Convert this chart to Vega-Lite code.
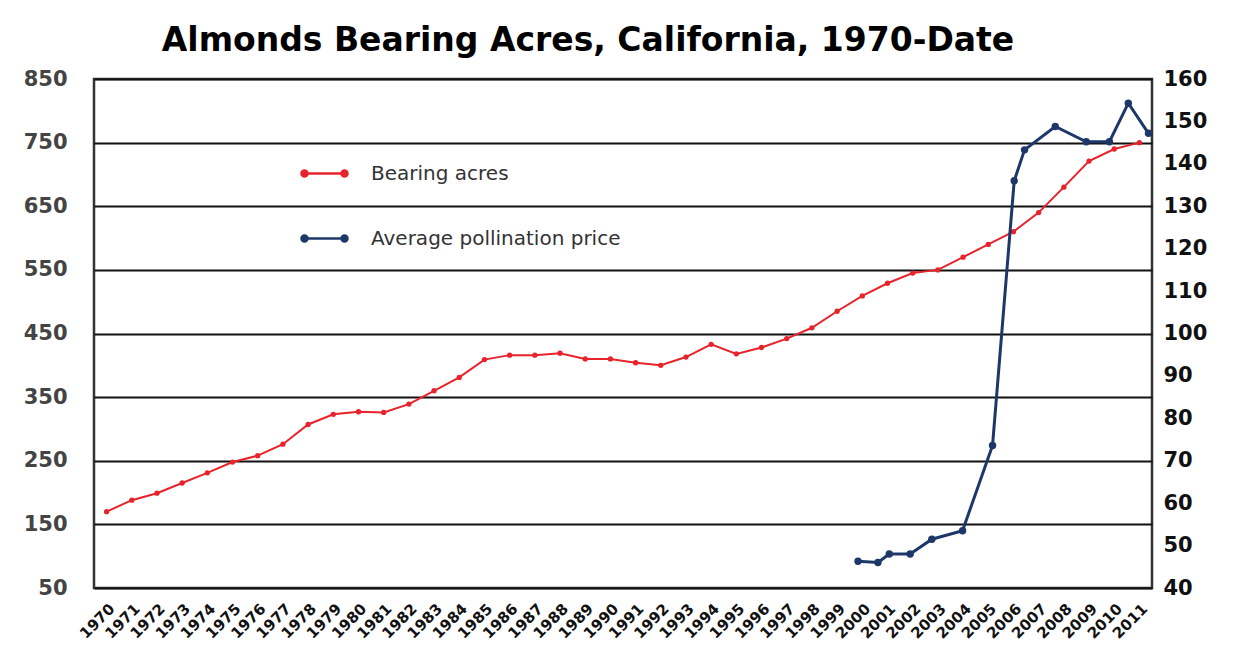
{
  "$schema": "https://vega.github.io/schema/vega-lite/v6.json",
  "width": 1058,
  "height": 509,
  "autosize": {"type": "none"},
  "padding": {"left": 94, "top": 79, "right": 87, "bottom": 78},
  "background": "white",
  "title": {
    "text": "Almonds Bearing Acres, California, 1970-Date",
    "font": "DejaVu Sans",
    "fontSize": 33,
    "fontWeight": "bold",
    "color": "#000",
    "anchor": "middle",
    "dx": -35,
    "offset": 10
  },
  "config": {
    "view": {"stroke": "#333", "strokeWidth": 2.5},
    "axis": {"labelFont": "DejaVu Sans", "labelFontWeight": "bold", "ticks": false, "domain": false, "title": null}
  },
  "datasets": {
    "acres": [
      {"year": 1970, "acres": 170, "series": "Bearing acres"},
      {"year": 1971, "acres": 188, "series": "Bearing acres"},
      {"year": 1972, "acres": 199, "series": "Bearing acres"},
      {"year": 1973, "acres": 215, "series": "Bearing acres"},
      {"year": 1974, "acres": 231, "series": "Bearing acres"},
      {"year": 1975, "acres": 248, "series": "Bearing acres"},
      {"year": 1976, "acres": 258, "series": "Bearing acres"},
      {"year": 1977, "acres": 276, "series": "Bearing acres"},
      {"year": 1978, "acres": 307, "series": "Bearing acres"},
      {"year": 1979, "acres": 323, "series": "Bearing acres"},
      {"year": 1980, "acres": 327, "series": "Bearing acres"},
      {"year": 1981, "acres": 326, "series": "Bearing acres"},
      {"year": 1982, "acres": 339, "series": "Bearing acres"},
      {"year": 1983, "acres": 360, "series": "Bearing acres"},
      {"year": 1984, "acres": 381, "series": "Bearing acres"},
      {"year": 1985, "acres": 409, "series": "Bearing acres"},
      {"year": 1986, "acres": 416, "series": "Bearing acres"},
      {"year": 1987, "acres": 416, "series": "Bearing acres"},
      {"year": 1988, "acres": 419, "series": "Bearing acres"},
      {"year": 1989, "acres": 410, "series": "Bearing acres"},
      {"year": 1990, "acres": 410, "series": "Bearing acres"},
      {"year": 1991, "acres": 404, "series": "Bearing acres"},
      {"year": 1992, "acres": 400, "series": "Bearing acres"},
      {"year": 1993, "acres": 413, "series": "Bearing acres"},
      {"year": 1994, "acres": 433, "series": "Bearing acres"},
      {"year": 1995, "acres": 418, "series": "Bearing acres"},
      {"year": 1996, "acres": 428, "series": "Bearing acres"},
      {"year": 1997, "acres": 442, "series": "Bearing acres"},
      {"year": 1998, "acres": 459, "series": "Bearing acres"},
      {"year": 1999, "acres": 485, "series": "Bearing acres"},
      {"year": 2000, "acres": 509, "series": "Bearing acres"},
      {"year": 2001, "acres": 529, "series": "Bearing acres"},
      {"year": 2002, "acres": 545, "series": "Bearing acres"},
      {"year": 2003, "acres": 550, "series": "Bearing acres"},
      {"year": 2004, "acres": 570, "series": "Bearing acres"},
      {"year": 2005, "acres": 590, "series": "Bearing acres"},
      {"year": 2006, "acres": 610, "series": "Bearing acres"},
      {"year": 2007, "acres": 640, "series": "Bearing acres"},
      {"year": 2008, "acres": 680, "series": "Bearing acres"},
      {"year": 2009, "acres": 721, "series": "Bearing acres"},
      {"year": 2010, "acres": 740, "series": "Bearing acres"},
      {"year": 2011, "acres": 750, "series": "Bearing acres"}
    ],
    "price": [
      {"year": 1999.83, "price": 46.3, "series": "Average pollination price"},
      {"year": 2000.62, "price": 46.0, "series": "Average pollination price"},
      {"year": 2001.07, "price": 48.0, "series": "Average pollination price"},
      {"year": 2001.9, "price": 48.0, "series": "Average pollination price"},
      {"year": 2002.76, "price": 51.5, "series": "Average pollination price"},
      {"year": 2003.98, "price": 53.5, "series": "Average pollination price"},
      {"year": 2005.17, "price": 73.6, "series": "Average pollination price"},
      {"year": 2006.03, "price": 136.0, "series": "Average pollination price"},
      {"year": 2006.44, "price": 143.3, "series": "Average pollination price"},
      {"year": 2007.66, "price": 148.8, "series": "Average pollination price"},
      {"year": 2008.89, "price": 145.2, "series": "Average pollination price"},
      {"year": 2009.81, "price": 145.2, "series": "Average pollination price"},
      {"year": 2010.56, "price": 154.3, "series": "Average pollination price"},
      {"year": 2011.36, "price": 147.2, "series": "Average pollination price"}
    ]
  },
  "encoding": {
    "x": {
      "field": "year",
      "type": "quantitative",
      "scale": {"domain": [1969.5, 2011.5], "nice": false, "zero": false},
      "axis": {
        "values": [1970,1971,1972,1973,1974,1975,1976,1977,1978,1979,1980,1981,1982,1983,1984,1985,1986,1987,1988,1989,1990,1991,1992,1993,1994,1995,1996,1997,1998,1999,2000,2001,2002,2003,2004,2005,2006,2007,2008,2009,2010,2011],
        "format": "d",
        "labelAngle": -45,
        "labelFontSize": 15,
        "labelColor": "#111",
        "labelPadding": 13,
        "labelOverlap": false,
        "labelBound": false,
        "labelFlush": false,
        "grid": false
      }
    },
    "color": {
      "field": "series",
      "type": "nominal",
      "scale": {"domain": ["Bearing acres", "Average pollination price"], "range": ["#e8232b", "#1d3868"]},
      "legend": {
        "title": null,
        "orient": "none",
        "legendX": 206,
        "legendY": 70,
        "padding": 0,
        "symbolType": "M-0.87,0H0.87M-1,0a0.13,0.13 0 1,0 0.26,0a0.13,0.13 0 1,0 -0.26,0M0.74,0a0.13,0.13 0 1,0 0.26,0a0.13,0.13 0 1,0 -0.26,0",
        "symbolSize": 2116,
        "symbolStrokeWidth": 2.5,
        "labelFont": "DejaVu Sans",
        "labelFontSize": 20,
        "labelColor": "#333",
        "labelOffset": 22,
        "rowPadding": 30,
        "labelLimit": 400
      }
    }
  },
  "layer": [
    {
      "data": {"name": "acres"},
      "encoding": {
        "y": {
          "field": "acres",
          "type": "quantitative",
          "scale": {"domain": [50, 850], "nice": false, "zero": false},
          "axis": {
            "values": [50,150,250,350,450,550,650,750,850],
            "grid": true,
            "gridColor": "#111",
            "gridWidth": 2,
            "labelPadding": 27,
            "labelFontSize": 21,
            "labelColor": "#444"
          }
        }
      },
      "layer": [
        {"mark": {"type": "line", "strokeWidth": 2}},
        {"mark": {"type": "point", "filled": true, "size": 28, "opacity": 1}}
      ]
    },
    {
      "data": {"name": "price"},
      "encoding": {
        "y": {
          "field": "price",
          "type": "quantitative",
          "scale": {"domain": [40, 160], "nice": false, "zero": false},
          "axis": {
            "orient": "right",
            "values": [40,50,60,70,80,90,100,110,120,130,140,150,160],
            "grid": false,
            "labelPadding": 11,
            "labelFontSize": 21,
            "labelColor": "#111"
          }
        }
      },
      "layer": [
        {"mark": {"type": "line", "strokeWidth": 3}},
        {"mark": {"type": "point", "filled": true, "size": 55, "opacity": 1}}
      ]
    }
  ],
  "resolve": {"scale": {"y": "independent"}, "axis": {"y": "independent"}}
}
